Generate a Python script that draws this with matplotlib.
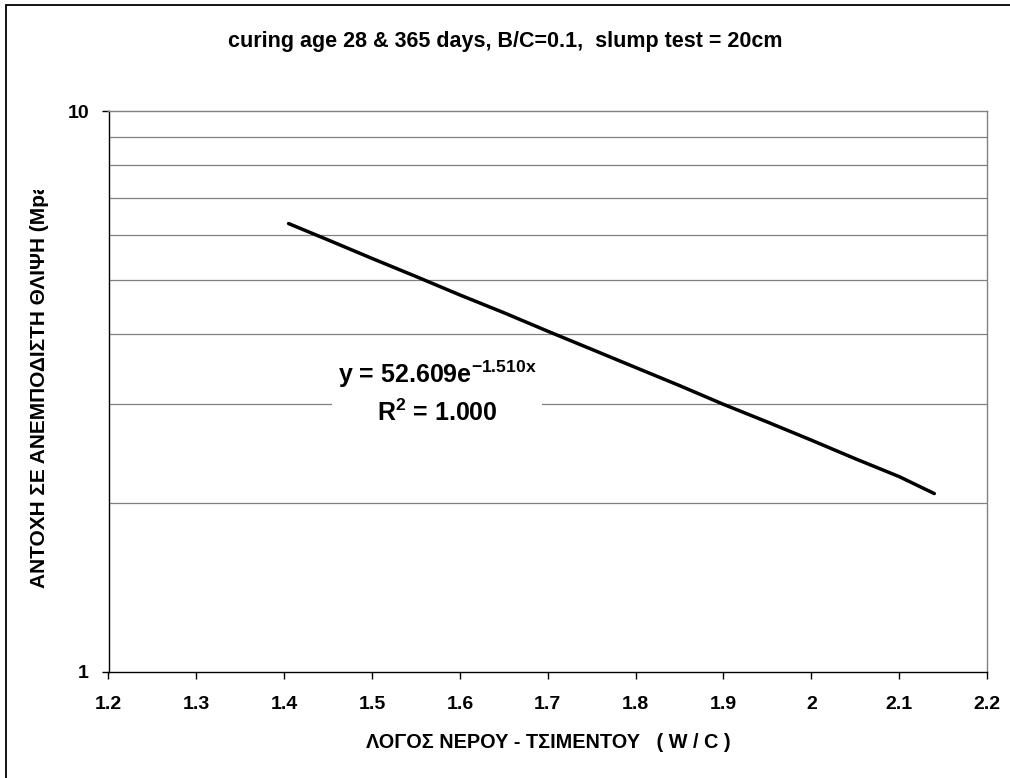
import matplotlib
matplotlib.use("Agg")
import matplotlib.pyplot as plt
from matplotlib.patches import Rectangle

plt.rcParams['font.family'] = ['Liberation Sans', 'DejaVu Sans']
plt.rcParams['font.weight'] = 'bold'
plt.rcParams['mathtext.fontset'] = 'custom'
plt.rcParams['mathtext.rm'] = 'Liberation Sans:bold'
plt.rcParams['mathtext.it'] = 'Liberation Sans:bold'
plt.rcParams['mathtext.bf'] = 'Liberation Sans:bold'

# data (trendline)
wc_ratio = [1.405, 1.45, 1.50, 1.55, 1.60, 1.65, 1.70, 1.75, 1.80, 1.85,
            1.90, 1.95, 2.00, 2.05, 2.10, 2.14]
strength = [6.30, 5.89, 5.46, 5.07, 4.70, 4.37, 4.05, 3.76, 3.49, 3.24,
            3.00, 2.79, 2.59, 2.40, 2.23, 2.08]

x_ticks = [1.2, 1.3, 1.4, 1.5, 1.6, 1.7, 1.8, 1.9, 2.0, 2.1, 2.2]
x_ticklabels = ["1.2", "1.3", "1.4", "1.5", "1.6", "1.7", "1.8", "1.9", "2", "2.1", "2.2"]
y_ticks = [1, 10]
y_ticklabels = ["1", "10"]
y_grid = [2, 3, 4, 5, 6, 7, 8, 9]

title = "curing age 28 & 365 days, B/C=0.1,  slump test = 20cm"
xlabel = "ΛΟΓΟΣ ΝΕΡΟΥ - ΤΣΙΜΕΝΤΟΥ   ( W / C )"
ylabel = "ΑΝΤΟΧΗ ΣΕ ΑΝΕΜΠΟΔΙΣΤΗ ΘΛΙΨΗ (Mpa)"
equation = "y = 52.609e$^{\\mathrm{-1.510x}}$\nR$^{\\mathrm{2}}$ = 1.000"

W, H = 1010, 778
fig = plt.figure(figsize=(W / 100, H / 100), dpi=100)

# outer frame (left and top edges visible)
fig.patches.append(Rectangle((6 / W, -10 / H), (W + 20) / W, (H + 10 - 5) / H,
                             transform=fig.transFigure, fill=False,
                             edgecolor='black', linewidth=1.3))

ax = fig.add_axes([108.5 / W, 1 - 672 / H, (987 - 108.5) / W, (672 - 111) / H])
ax.set_yscale('log')
ax.set_xlim(1.2, 2.2)
ax.set_ylim(1, 10)

for g in y_grid:
    ax.axhline(g, color='#808080', linewidth=0.9, zorder=1)

ax.plot(wc_ratio, strength, color='black', linewidth=2.5, zorder=3,
        solid_capstyle='round')

ax.set_xticks(x_ticks)
ax.set_xticklabels(x_ticklabels)
ax.set_yticks(y_ticks)
ax.set_yticklabels(y_ticklabels)
ax.yaxis.set_minor_locator(matplotlib.ticker.NullLocator())
ax.tick_params(axis='both', which='major', direction='out', length=5, width=1,
               labelsize=14, color='black')
ax.tick_params(axis='x', pad=12)
ax.tick_params(axis='y', pad=9)
for lab in ax.get_xticklabels() + ax.get_yticklabels():
    lab.set_fontweight('bold')

ax.spines['left'].set_color('black')
ax.spines['bottom'].set_color('black')
ax.spines['top'].set_color('#808080')
ax.spines['right'].set_color('#808080')
for s in ax.spines.values():
    s.set_linewidth(1.0)

ax.text((437 - 108.5) / (987 - 108.5), 1 - (392 - 111) / (672 - 111), equation,
        transform=ax.transAxes, ha='center', va='center', multialignment='center',
        fontsize=18, fontweight='bold', linespacing=1.45, zorder=4,
        bbox=dict(facecolor='white', edgecolor='none', pad=4))

fig.text(0.5, 1 - 42 / H, title, ha='center', va='center', fontsize=15.5,
         fontweight='bold')
fig.text(548 / W, 1 - 742 / H, xlabel, ha='center', va='center', fontsize=14.3,
         fontweight='bold')
fig.text(40 / W, 1 - 588 / H, ylabel, ha='center', va='bottom', rotation=90,
         fontsize=15, fontweight='bold', zorder=3)
# the label is cut off at its top in the original chart
fig.add_artist(Rectangle((20 / W, 1 - 190 / H), 45 / W, 60 / H,
                         transform=fig.transFigure, facecolor='white',
                         edgecolor='none', zorder=5))

fig.savefig("out.png", dpi=100)
